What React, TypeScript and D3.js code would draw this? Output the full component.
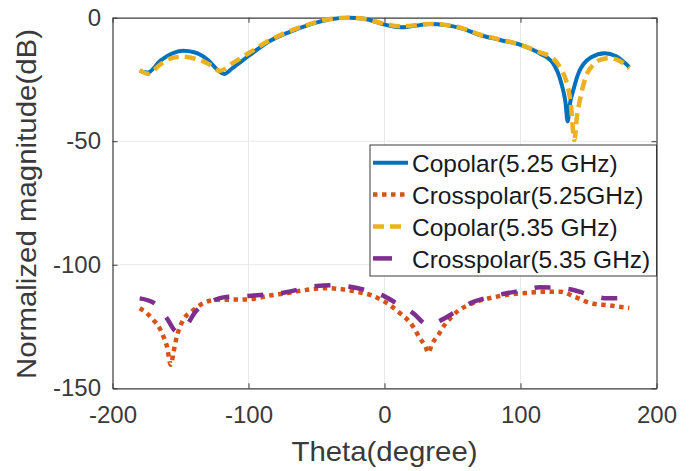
import React, { useRef, useEffect } from "react";
import * as d3 from "d3";

// Copolar 5.25 GHz
const thetaCo525 = [-180, -174, -165, -155, -148, -140, -130, -122, -118, -112, -100, -85, -70, -55, -40, -26, -15, 0, 11, 22, 33, 45, 58, 70, 85, 100, 114, 124, 130, 133, 134.7, 136, 139, 143, 146, 152, 162, 170, 180];
const co525 = [-21.5, -22.2, -17.5, -14.2, -13.4, -14, -17, -21.5, -22.8, -20.5, -15.5, -9.6, -5.8, -2.8, -0.6, 0, -0.4, -2.8, -3.9, -3.3, -2.6, -3, -4.5, -7, -9, -11, -14.4, -18.5, -26.5, -34, -42, -36, -29, -22, -19, -16, -14.4, -15.5, -20];

// Crosspolar 5.25 GHz
const thetaX525 = [-180, -175, -170, -165, -162.6, -160, -157.2, -155, -153.3, -148, -142, -135.7, -123.4, -100, -85, -72, -55, -42.5, -30, -20.4, -10, -1, 10, 21, 26, 30, 32.2, 35, 39.6, 44, 49.4, 55, 61.6, 70, 82.5, 95, 107, 118, 129, 140, 148.7, 156, 163.4, 170, 180];
const x525 = [-117.6, -119.5, -122.3, -126, -129, -133, -140.5, -135, -130.4, -122.3, -119, -116.3, -114.2, -114, -112.5, -111.5, -110, -109.5, -110, -110.9, -112.3, -114.6, -119, -125, -129.7, -133, -135.6, -132, -128.4, -124.5, -121, -118.3, -116.3, -114.5, -112.9, -111.8, -111.3, -110.9, -110.9, -113, -115, -116, -116.3, -116.8, -117.5];

// Copolar 5.35 GHz
const thetaCo535 = [-180, -174, -165, -157, -149, -140, -130, -121, -112, -100, -85, -70, -55, -40, -26, -15, 0, 11, 22, 33, 45, 58, 70, 85, 100, 114, 124, 130, 133.4, 137, 139.6, 141.5, 143.8, 148, 153.5, 160, 166, 173, 180];
const co535 = [-21.2, -22.7, -19, -16.5, -15.8, -16.5, -18.5, -21.5, -18.5, -14.4, -9.3, -5.5, -2.6, -0.5, 0, -0.4, -2.5, -3.5, -3.1, -2.5, -2.9, -4.4, -6.8, -8.8, -11, -14, -16.5, -21, -25.2, -35, -49.5, -40, -33, -24, -19, -16.8, -16.4, -17.5, -20.5];

// Crosspolar 5.35 GHz
const thetaX535 = [-180, -169, -160, -152.8, -145.4, -139, -128, -118.5, -100, -74.4, -50, -38, -25.4, -12, 0.4, 10, 21, 32.2, 43, 55, 65.3, 78, 90, 102, 114, 127, 139, 150, 163.4, 180];
const x535 = [-113.6, -115.6, -121.7, -127, -124.4, -119, -115, -113.2, -112.6, -111.3, -108.6, -108.3, -108.9, -110.5, -112.9, -116, -119.6, -124.4, -122, -118, -115, -113, -111.5, -110.4, -109.1, -109.3, -110.2, -112, -113.6, -113.6];

const xTicks = [-200, -100, 0, 100, 200];
const yTicks = [-150, -100, -50, 0];
const legendLabels = ["Copolar(5.25 GHz)", "Crosspolar(5.25GHz)", "Copolar(5.35 GHz)", "Crosspolar(5.35 GHz)"];

const FONT = "'Liberation Sans', Arial, Helvetica, sans-serif";

const App = () => {
  const ref = useRef<SVGSVGElement>(null);

  useEffect(() => {
    const width = 697;
    const height = 471;
    const left = 112.5, right = 656.5, top = 17.7, bottom = 388.3;

    const svg = d3.select(ref.current);
    svg.selectAll("*").remove();
    svg.attr("width", width).attr("height", height);

    const x = d3.scaleLinear().domain([-200, 200]).range([left, right]);
    const y = d3.scaleLinear().domain([-150, 0]).range([bottom, top]);

    // grid
    const grid = svg.append("g").attr("stroke", "#e8e8e8").attr("stroke-width", 1);
    xTicks.slice(1, -1).forEach((t) => {
      grid.append("line").attr("x1", x(t)).attr("x2", x(t)).attr("y1", top).attr("y2", bottom);
    });
    yTicks.slice(1, -1).forEach((t) => {
      grid.append("line").attr("x1", left).attr("x2", right).attr("y1", y(t)).attr("y2", y(t));
    });

    // axes (MATLAB box, ticks inward)
    const axColor = "#3a3a3a";
    const styleAxis = (g: any) => {
      g.selectAll("path").attr("stroke", axColor).attr("stroke-width", 1.2);
      g.selectAll("line").attr("stroke", axColor).attr("stroke-width", 1);
      g.selectAll("text").attr("fill", "#3a3a3a").attr("font-family", FONT).attr("font-size", 24);
    };
    svg.append("g").attr("transform", `translate(0,${bottom})`)
      .call(d3.axisBottom(x).tickValues(xTicks).tickSizeInner(-5).tickSizeOuter(0).tickPadding(17.7).tickFormat(d3.format("d")) as any)
      .call(styleAxis);
    svg.append("g").attr("transform", `translate(${left},0)`)
      .call(d3.axisLeft(y).tickValues(yTicks).tickSizeInner(-5).tickSizeOuter(0).tickPadding(11.5).tickFormat(d3.format("d")) as any)
      .call(styleAxis);
    svg.append("g").attr("transform", `translate(0,${top})`)
      .call(d3.axisTop(x).tickValues(xTicks).tickSizeInner(-5).tickSizeOuter(0).tickFormat(() => "") as any)
      .call(styleAxis);
    svg.append("g").attr("transform", `translate(${right},0)`)
      .call(d3.axisRight(y).tickValues(yTicks).tickSizeInner(-5).tickSizeOuter(0).tickFormat(() => "") as any)
      .call(styleAxis);
    svg.selectAll(".domain").attr("fill", "none");
    svg.selectAll("text").text(function () {
      return (d3.select(this).text() || "").replace("−", "-");
    });

    // series
    const series = [
      { th: thetaCo525, v: co525, color: "#0072BD", w: 4, dash: null, lx2: 408 },
      { th: thetaX525, v: x525, color: "#D95319", w: 4.5, dash: "4.5 4.5", lx2: 408 },
      { th: thetaCo535, v: co535, color: "#EDB120", w: 4.5, dash: "11 6", lx2: 406 },
      { th: thetaX535, v: x535, color: "#7E2F8E", w: 4.5, dash: "16 18", lx2: 392 },
    ];
    const line = d3.line<[number, number]>()
      .x((d) => x(d[0]))
      .y((d) => y(d[1]))
      .curve(d3.curveMonotoneX);

    series.forEach((s) => {
      const pts = s.th.map((t, i) => [t, s.v[i]] as [number, number]);
      svg.append("path")
        .attr("d", line(pts))
        .attr("fill", "none")
        .attr("stroke", s.color)
        .attr("stroke-width", s.w)
        .attr("stroke-dasharray", s.dash)
        .attr("stroke-linejoin", "round");
    });

    // legend
    const lg = svg.append("g");
    lg.append("rect")
      .attr("x", 370).attr("y", 145).attr("width", right - 370).attr("height", 131)
      .attr("fill", "white").attr("stroke", axColor).attr("stroke-width", 1);
    series.forEach((s, i) => {
      const ry = 162.7 + i * 31.9;
      lg.append("line")
        .attr("x1", 373).attr("x2", s.lx2).attr("y1", ry).attr("y2", ry)
        .attr("stroke", s.color).attr("stroke-width", s.w)
        .attr("stroke-dasharray", i === 3 ? null : s.dash);
      lg.append("text")
        .attr("x", 412).attr("y", ry + 9.5)
        .attr("font-family", FONT).attr("font-size", 24.5)
        .attr("fill", "#1a1a1a")
        .text(legendLabels[i]);
    });

    // axis labels
    svg.append("text")
      .attr("x", (left + right) / 2).attr("y", 460.7)
      .attr("text-anchor", "middle")
      .attr("font-family", FONT).attr("font-size", 28.5)
      .attr("fill", "#3a3a3a")
      .attr("textLength", 186).attr("lengthAdjust", "spacingAndGlyphs")
      .text("Theta(degree)");
    svg.append("text")
      .attr("transform", `translate(35.5,204) rotate(-90)`)
      .attr("text-anchor", "middle")
      .attr("font-family", FONT).attr("font-size", 28.5)
      .attr("fill", "#3a3a3a")
      .attr("textLength", 350).attr("lengthAdjust", "spacingAndGlyphs")
      .text("Normalized magnitude(dB)");
  }, []);

  return <svg ref={ref} style={{ position: "absolute", left: 0, top: 0 }} />;
};

export default App;
